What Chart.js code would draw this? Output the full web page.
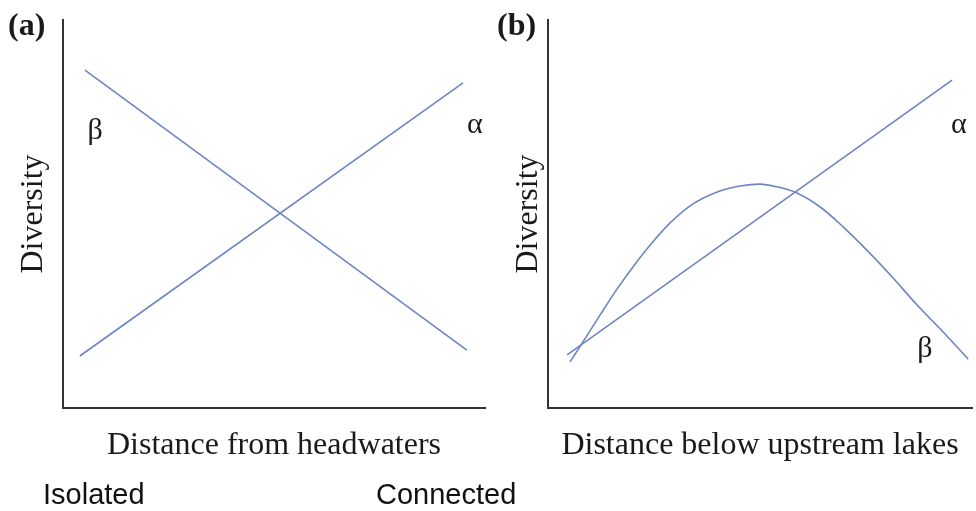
<!DOCTYPE html>
<html lang="en">
<head>
    <meta charset="UTF-8">
    <title>Alpha and beta diversity</title>
    <script src="https://cdn.jsdelivr.net/npm/chart.js@4.4.0/dist/chart.umd.min.js"></script>
    <style>
        body {
            margin: 0;
            padding: 0;
            background: #ffffff;
            width: 976px;
            height: 511px;
            position: relative;
            overflow: hidden;
        }
        .panel {
            position: absolute;
            top: 0;
        }
        .tag {
            position: absolute;
            font-family: 'Liberation Serif', 'Times New Roman', serif;
            font-weight: bold;
            font-size: 32px;
            line-height: 32px;
            color: #1a1a1a;
        }
        .end {
            position: absolute;
            font-family: 'Liberation Sans', Arial, sans-serif;
            font-size: 29px;
            line-height: 29px;
            color: #111;
        }
    </style>
</head>
<body>

    <div class="panel" style="left:0px"><canvas id="chartA" width="490" height="511"></canvas></div>
    <div class="panel" style="left:490px"><canvas id="chartB" width="486" height="511"></canvas></div>

    <div class="tag" style="left:8px; top:8px">(a)</div>
    <div class="tag" style="left:497px; top:8px">(b)</div>
    <div class="end" style="left:43px; top:480px">Isolated</div>
    <div class="end" style="left:376px; top:480px">Connected</div>

    <script>
        // panel (a): distance from headwaters
        var alphaAx = [0.4, 9.48];
        var alphaAy = [1.34, 8.38];
        var betaAx = [0.52, 9.57];
        var betaAy = [8.71, 1.49];

        // panel (b): distance below upstream lakes
        var alphaBx = [0.45, 9.53];
        var alphaBy = [1.37, 8.45];
        var betaBx = [0.52, 0.87, 1.23, 1.63, 2.00, 2.41, 2.88, 3.42, 3.99, 4.53, 5.00, 5.40, 5.87, 6.42, 6.96, 7.52, 8.14, 8.70, 9.32, 9.91];
        var betaBy = [1.19, 1.78, 2.40, 3.07, 3.63, 4.20, 4.77, 5.26, 5.57, 5.72, 5.77, 5.70, 5.54, 5.18, 4.67, 4.07, 3.35, 2.66, 1.96, 1.26];

        // curve labels [text, x, y] in data units
        var labelsA = [['\u03b2', 0.76, 7.14], ['\u03b1', 9.76, 7.29]];
        var labelsB = [['\u03b1', 9.69, 7.29], ['\u03b2', 8.89, 1.52]];

        var lineColor = '#6d84c5';
        var axisColor = '#333333';

        function pts(xs, ys) {
            return xs.map(function(x, i) { return {x: x, y: ys[i]}; });
        }

        var curveLabels = {
            id: 'curveLabels',
            afterDatasetsDraw: function(chart, args, opts) {
                var ctx = chart.ctx;
                ctx.save();
                ctx.font = '30px "Liberation Serif", "Times New Roman", serif';
                ctx.fillStyle = '#1a1a1a';
                ctx.textAlign = 'center';
                ctx.textBaseline = 'middle';
                opts.items.forEach(function(l) {
                    ctx.fillText(l[0], chart.scales.x.getPixelForValue(l[1]), chart.scales.y.getPixelForValue(l[2]));
                });
                ctx.restore();
            }
        };

        function makeChart(id, datasets, xTitle, yWidth, yPad, items) {
            return new Chart(document.getElementById(id), {
                type: 'scatter',
                data: { datasets: datasets },
                options: {
                    responsive: false,
                    animation: false,
                    layout: { padding: { left: 0, top: 20, right: id === 'chartA' ? 5 : 4, bottom: 0 } },
                    plugins: {
                        legend: { display: false },
                        tooltip: { enabled: false },
                        curveLabels: { items: items }
                    },
                    scales: {
                        x: {
                            type: 'linear', min: 0, max: 10,
                            ticks: { display: false },
                            grid: { display: false, drawTicks: false },
                            border: { display: true, color: axisColor, width: 2 },
                            title: {
                                display: true, text: xTitle, color: '#1a1a1a',
                                font: { family: '"Liberation Serif", "Times New Roman", serif', size: 32 },
                                padding: { top: 0, bottom: 46 }
                            },
                            afterFit: function(s) { s.height = 103; }
                        },
                        y: {
                            type: 'linear', min: 0, max: 10,
                            ticks: { display: false },
                            grid: { display: false, drawTicks: false },
                            border: { display: true, color: axisColor, width: 2 },
                            title: {
                                display: true, text: 'Diversity', color: '#1a1a1a',
                                font: { family: '"Liberation Serif", "Times New Roman", serif', size: 32 },
                                padding: { top: yPad, bottom: 0 }
                            },
                            afterFit: function(s) { s.width = yWidth; }
                        }
                    }
                },
                plugins: [curveLabels]
            });
        }

        function ds(data, smooth) {
            return {
                data: data,
                showLine: true,
                borderColor: lineColor,
                borderWidth: 1.6,
                pointRadius: 0,
                fill: false,
                cubicInterpolationMode: smooth ? 'monotone' : 'default'
            };
        }

        makeChart('chartA', [ds(pts(alphaAx, alphaAy)), ds(pts(betaAx, betaAy))],
            'Distance from headwaters', 63, 14, labelsA);
        makeChart('chartB', [ds(pts(alphaBx, alphaBy)), ds(pts(betaBx, betaBy), true)],
            'Distance below upstream lakes', 58, 19, labelsB);
    </script>
</body>
</html>
